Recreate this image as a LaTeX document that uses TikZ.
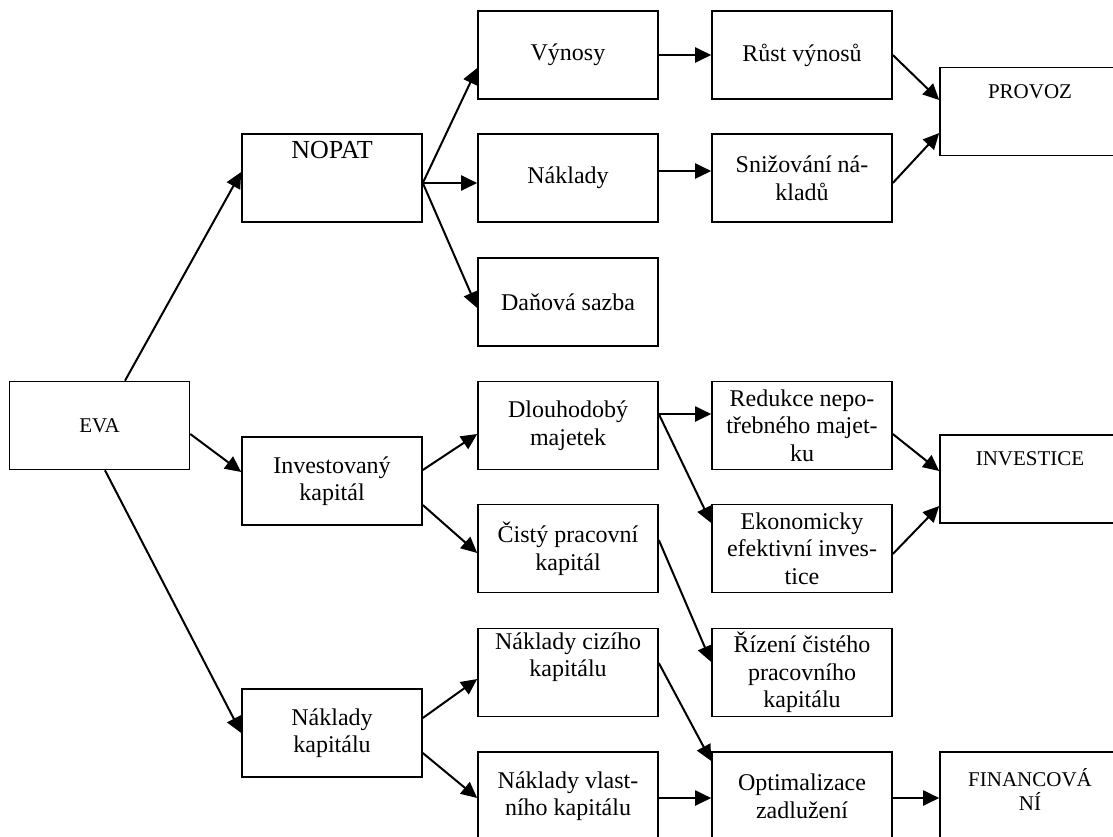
\documentclass[tikz,border=0pt]{standalone}
\usepackage{fontspec}
\setmainfont{Liberation Serif}
\usetikzlibrary{arrows.meta}
\tikzset{
  box/.style={draw, line width=0.8pt, minimum width=90pt, minimum height=44pt, inner sep=1pt, align=center, font=\fontsize{12}{13.8}\selectfont},
  tag/.style={anchor=north, inner sep=0pt, align=center, font=\fontsize{10.5}{11.8}\selectfont, yshift=-8.5pt},
  arr/.style={-{Triangle[length=8pt,width=7.5pt]}, line width=1pt}
}
\begin{document}
\begin{tikzpicture}[x=0.5pt,y=-0.5pt]
        \useasboundingbox (0,0) rectangle (1113,836);
        \node[box, font=\fontsize{10.5}{12}\selectfont] at (99.5,425.5) (eva) {EVA};
        \node[box, label={[anchor=north,inner sep=0pt,font=\fontsize{13}{15}\selectfont,yshift=-4pt]north:NOPAT}] at (332,178) (nopat) {};
        \node[box] at (332,481)   (invest) {Investovaný\\kapitál};
        \node[box] at (332,733)   (nkap) {Náklady\\kapitálu};
        \node[box] at (568,55)    (vynosy) {Výnosy};
        \node[box] at (568,178)   (naklady) {Náklady};
        \node[box] at (568,302)   (dan) {Daňová sazba};
        \node[box] at (568,425.5) (dlouh) {Dlouhodobý\\majetek};
        \node[box] at (568,548.5) (cisty) {Čistý pracovní\\kapitál};
        \node[box] at (568,672.5) (cizi) {Náklady cizího\\kapitálu\\\strut};
        \node[box] at (568,796)   (vlast) {Náklady vlast-\\ního kapitálu};
        \node[box] at (802,55)    (rust) {Růst výnosů};
        \node[box] at (802,178)   (sniz) {Snižování ná-\\kladů};
        \node[box] at (802,425.5) (redukce) {Redukce nepo-\\třebného majet-\\ku};
        \node[box] at (802,548.5) (ekon) {Ekonomicky\\efektivní inves-\\tice};
        \node[box] at (802,672.5) (rizeni) {Řízení čistého\\pracovního\\kapitálu};
        \node[box] at (802,796)   (optim) {Optimalizace\\zadlužení};
        \node[box, label={[tag]north:PROVOZ}] at (1030,111.5) (provoz) {};
        \node[box, label={[tag]north:INVESTICE}] at (1030,479) (investice) {};
        \node[box, label={[tag]north:FINANCOVÁ\\NÍ}] at (1030,796) (financ) {};
        \draw[arr] ([xshift=12.75pt]eva.north) -- ([yshift=3pt]nopat.west);
        \draw[arr] ([yshift=-4.25pt]eva.east) -- ([yshift=4.5pt]invest.west);
        \draw[arr] ([xshift=2.75pt]eva.south) -- (nkap.west);
        \draw[arr] ([yshift=-2.5pt]nopat.east) -- ([yshift=-6.5pt]vynosy.west);
        \draw[arr] ([yshift=-2.5pt]nopat.east) -- ([yshift=-2.5pt]naklady.west);
        \draw[arr] ([yshift=-2.5pt]nopat.east) -- ([yshift=-3pt]dan.west);
        \draw[arr] (vynosy.east) -- (rust.west);
        \draw[arr] ([yshift=3.5pt]naklady.east) -- ([yshift=3.5pt]sniz.west);
        \draw[arr] (rust.east) -- ([yshift=5.75pt]provoz.west);
        \draw[arr] ([yshift=-2.5pt]sniz.east) -- ([yshift=-10.75pt]provoz.west);
        \draw[arr] ([yshift=5.5pt]invest.east) -- ([yshift=-4.25pt]dlouh.west);
        \draw[arr] ([yshift=-12pt]invest.east) -- ([yshift=-2.25pt]cisty.west);
        \draw[arr] ([yshift=5.75pt]dlouh.east) -- ([yshift=5.75pt]redukce.west);
        \draw[arr] ([yshift=5.75pt]dlouh.east) -- ([yshift=12.75pt]ekon.west);
        \draw[arr] ([yshift=-4.25pt]redukce.east) -- ([yshift=4pt]investice.west);
        \draw[arr] ([yshift=-2.75pt]ekon.east) -- ([yshift=-13.5pt]investice.west);
        \draw[arr] ([yshift=4.25pt]cisty.east) -- ([yshift=5.25pt]rizeni.west);
        \draw[arr] ([yshift=7.5pt]nkap.east) -- ([yshift=-3.25pt]cizi.west);
        \draw[arr] ([yshift=-10pt]nkap.east) -- ([yshift=-1pt]vlast.west);
        \draw[arr] ([yshift=4.75pt]cizi.east) -- ([yshift=17.5pt]optim.west);
        \draw[arr] ([yshift=-1pt]vlast.east) -- ([yshift=-1pt]optim.west);
        \draw[arr] ([yshift=-1pt]optim.east) -- ([yshift=-1pt]financ.west);
      \end{tikzpicture}
\end{document}
